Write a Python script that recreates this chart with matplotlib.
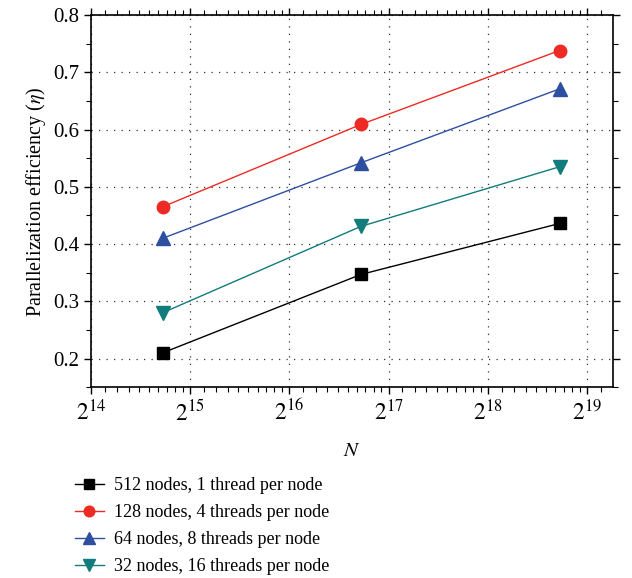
import numpy as np
import matplotlib
matplotlib.use("Agg")
import matplotlib.pyplot as plt
from matplotlib.ticker import LogLocator, FixedLocator, MultipleLocator, FuncFormatter, NullFormatter

plt.rcParams['font.family'] = ['Liberation Serif', 'DejaVu Serif']
plt.rcParams['mathtext.fontset'] = 'stix'

# data
N = [27000, 108000, 432000]
eff_512x1 = [0.210, 0.347, 0.436]
eff_128x4 = [0.465, 0.609, 0.738]
eff_64x8 = [0.410, 0.542, 0.671]
eff_32x16 = [0.280, 0.431, 0.535]
labels = ['512 nodes, 1 thread per node',
          '128 nodes, 4 threads per node',
          '64 nodes, 8 threads per node',
          '32 nodes, 16 threads per node']

series = [eff_512x1, eff_128x4, eff_64x8, eff_32x16]
colors = ['#000000', '#ee2a24', '#2e4fa0', '#117c7b']
markers = ['s', 'o', '^', 'v']
msizes = [8, 9, 10, 10]

fig = plt.figure(figsize=(6.32, 5.78), dpi=100)
ax = fig.add_axes([0.144, 0.330, 0.826, 0.644])

for y, c, m, ms, lab in zip(series, colors, markers, msizes, labels):
    ax.plot(N, y, color=c, marker=m, markersize=ms, linewidth=1.0, label=lab)

ax.set_xscale('log', base=2)
ax.set_xlim(2**14, 2**19.26)
ax.set_ylim(0.15, 0.8)

ax.xaxis.set_major_locator(FixedLocator([2**k for k in range(14, 20)]))
ax.xaxis.set_major_formatter(FuncFormatter(lambda v, p: r'$2^{%d}$' % round(np.log2(v))))
ax.xaxis.set_minor_locator(LogLocator(base=2, subs=np.arange(1.1, 2.0, 0.1), numticks=50))
ax.xaxis.set_minor_formatter(NullFormatter())
ax.yaxis.set_major_locator(MultipleLocator(0.1))
ax.yaxis.set_minor_locator(MultipleLocator(0.05))
ax.yaxis.set_major_formatter(FuncFormatter(lambda v, p: '%.1f' % v))

ax.tick_params(which='both', direction='out', top=True, right=True, labeltop=False, labelright=False)
ax.tick_params(which='major', length=5, width=1.0, labelsize=15)
ax.tick_params(which='minor', length=3.5, width=0.8)
ax.tick_params(axis='x', which='major', pad=4, labelsize=17)

for s in ax.spines.values():
    s.set_linewidth(1.2)

ax.grid(True, which='major', linestyle=(0, (1, 5)), color='#333333', linewidth=0.9)

ax.set_xlabel('$N$', fontsize=15, labelpad=12)
ax.set_ylabel(r'Parallelization efficiency ($\eta$)', fontsize=14.5)

ax.legend(loc='upper left', bbox_to_anchor=(-0.045, -0.222), frameon=False, fontsize=13,
          handlelength=1.6, handletextpad=0.55, labelspacing=0.55, borderaxespad=0,
          markerscale=0.85)

fig.savefig('out.png', dpi=100)
